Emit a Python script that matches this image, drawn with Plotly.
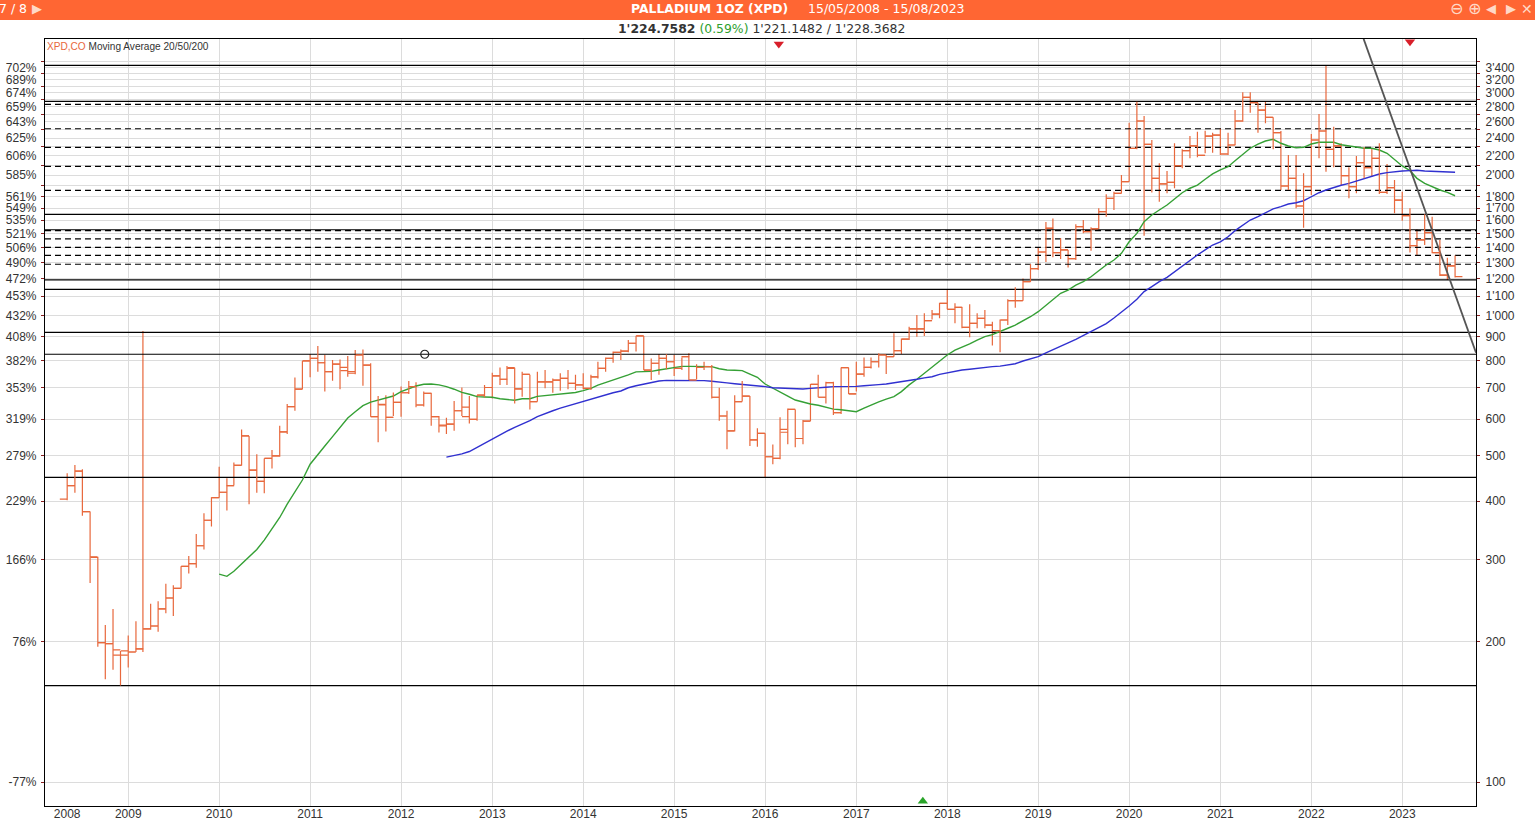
import plotly.graph_objects as go
import pandas as pd

months = [d.strftime("%Y-%m-%d") for d in pd.date_range("2008-05-01", "2023-08-01", freq="MS")]

highs = [459,478,468,380,304,217,235,191,206,221,926,241,244,266,264,290,305,340,377,408,474,448,484,570,552,504,494,515,580,646,
736,799,827,860,824,803,805,819,843,846,790,672,675,684,704,724,719,687,683,609,604,656,701,672,675,710,754,774,779,773,
758,746,758,764,733,752,764,746,752,746,796,813,837,846,886,905,904,809,827,826,823,813,830,786,796,783,700,625,675,724,
672,573,559,529,605,632,629,597,713,746,721,721,774,773,796,813,813,830,823,916,893,946,1002,1011,1028,1065,1138,1062,1041,1057,
1011,1028,970,981,1083,1149,1201,1289,1395,1586,1615,1464,1382,1568,1602,1545,1697,1819,1843,2001,2590,2873,2677,2378,2119,2041,2339,2271,2425,2478,
2490,2466,2519,2466,2757,3009,3009,2859,2873,2659,2486,2208,2208,2017,2449,2704,3443,2540,2339,2078,2197,2293,2282,2339,2112,1952,1843,1697,1530,1648,
1629,1452,1330,1344]
lows = [402,417,372,267,195,166,174,161,176,190,190,212,210,230,227,260,280,288,315,353,407,382,433,477,394,417,416,470,498,557,
625,695,737,758,687,725,695,739,748,707,607,535,564,609,607,679,636,638,580,561,557,566,609,587,595,668,664,710,710,648,
670,629,654,698,683,690,695,692,695,692,733,758,792,803,834,837,764,727,746,767,742,764,724,730,764,664,595,517,564,654,
525,523,450,480,492,530,522,530,594,668,648,612,615,679,687,739,770,774,749,816,827,886,901,904,981,986,1031,962,939,898,
939,939,862,834,954,1039,1076,1180,1252,1302,1333,1322,1268,1315,1500,1377,1533,1629,1683,1828,1936,2271,1483,1834,1754,1828,1873,2068,2172,2183,
2227,2234,2208,2208,2320,2603,2721,2466,2582,2271,1858,1858,1697,1543,1813,2172,2034,2078,1904,1783,1828,1968,1984,1822,1822,1656,1597,1364,1344,1416,
1359,1215,1192,1207]
opens = [404,432,464,380,303,199,198,187,191,190,193,213,216,235,248,260,290,294,321,364,407,418,432,477,552,466,441,494,500,563,
638,695,799,809,792,758,787,762,758,823,783,607,643,605,651,683,704,643,681,607,582,585,625,607,599,675,701,742,730,773,
696,748,654,721,721,727,733,715,710,698,739,770,809,834,839,872,904,764,790,809,796,770,816,727,774,777,668,609,566,654,
672,541,559,498,494,562,629,545,594,712,668,718,619,773,679,749,774,796,823,816,841,890,936,936,975,1007,1062,1031,1041,943,
962,986,954,928,978,1076,1076,1182,1260,1368,1538,1364,1382,1324,1550,1513,1533,1669,1783,1828,1936,2282,2612,2328,1968,1914,1930,2092,2256,2309,
2205,2425,2437,2219,2320,2612,2935,2859,2757,2659,2466,1895,1968,1717,1889,2378,2486,2271,2309,1994,1889,2126,2074,2172,1837,1879,1768,1637,1412,1452,
1505,1364,1221,1277]
closes = [432,464,380,304,199,198,192,187,190,193,213,216,235,248,260,290,294,321,364,407,418,432,478,552,466,441,494,500,563,638,
695,799,809,792,758,787,774,752,823,783,607,645,605,651,683,704,643,681,607,580,585,625,636,599,675,701,742,730,770,696,
748,654,721,721,727,733,715,710,698,739,770,809,834,839,872,904,764,790,809,796,770,816,727,774,777,668,609,566,654,672,
541,559,498,494,570,629,545,594,712,668,718,619,773,679,749,774,796,823,816,841,890,936,936,975,1007,1062,1031,1041,943,962,
986,954,928,978,1076,1076,1182,1260,1368,1540,1364,1382,1324,1550,1513,1533,1669,1783,1828,1936,2282,2612,2328,1968,1914,1930,2092,2256,2309,2205,
2425,2437,2219,2320,2612,2935,2859,2757,2659,2466,1895,1968,1717,1889,2378,2486,2271,2309,1994,1889,2126,2074,2172,1837,1879,1768,1637,1412,1452,1505,
1364,1221,1277,1211]

ma_green = [279,276,283,293,304,315,330,350,369,394,419,444,480,502,525,550,577,603,622,641,652,659,666,672,687,697,706,712,713,710,
704,695,684,678,670,669,668,663,661,658,663,663,671,674,676,678,681,684,690,698,709,718,725,737,746,757,757,759,764,769,
774,778,778,778,779,777,769,764,763,762,749,737,713,698,686,672,659,652,646,642,636,630,628,625,622,633,643,653,662,670,
687,710,730,752,774,796,823,843,855,869,886,901,910,923,939,954,973,994,1019,1053,1085,1116,1134,1162,1182,1211,1247,1283,1315,1359,
1439,1500,1589,1642,1683,1725,1777,1833,1874,1904,1959,2011,2051,2084,2147,2216,2283,2331,2366,2386,2340,2309,2289,2294,2331,2351,2355,2351,2323,2309,
2301,2283,2283,2263,2227,2162,2092,2044,1968,1920,1888,1858,1837,1806]
ma_blue = [497,501,505,511,522,532,543,554,565,576,585,595,607,617,625,633,640,647,656,662,668,676,683,689,700,707,713,719,724,726,726,726,726,726,725,723,719,717,714,712,709,707,704,700,699,697,696,696,698,699,702,704,704,705,705,707,710,711,713,717,720,725,730,735,739,748,754,760,764,767,771,774,777,779,783,788,799,808,816,832,846,860,874,889,906,922,940,961,988,1015,1048,1083,1125,1153,1182,1207,1241,1279,1315,1348,1382,1416,1439,1475,1520,1563,1602,1629,1661,1692,1711,1734,1745,1762,1797,1833,1858,1883,1902,1920,1942,1968,1991,2011,2024,2034,2041,2044,2048,2041,2038,2038,2034,2028]

solid_levels = [3438,2878,1648,1527,1192,1138,920,826,450,161]
dashed_levels = [2836,2514,2294,2088,1855,1520,1459,1400,1346,1288]

trend_x = ["2022-07-30", "2023-10-24"]
trend_y = [3917, 832]
sell_x = ["2016-02-25", "2023-02-01"]
sell_y = [3820, 3860]
buy_x = ["2017-09-25"]
buy_y = [91]
circle_x = ["2012-04-05"]
circle_y = [826]

price_ticks = [100,200,300,400,500,600,700,800,900,1000,1100,1200,1300,1400,1500,1600,1700,1800,2000,2200,2400,2600,2800,3000,3200,3400]
price_labels = ["100","200","300","400","500","600","700","800","900","1'000","1'100","1'200","1'300","1'400","1'500","1'600","1'700","1'800","2'000","2'200","2'400","2'600","2'800","3'000","3'200","3'400"]
pct_labels = ["-77%","76%","166%","229%","279%","319%","353%","382%","408%","432%","453%","472%","490%","506%","521%","535%","549%","561%","585%","606%","625%","643%","659%","674%","689%","702%"]
minor_ticks = [100,200,300,400,500,600,700,800,900,1000,1100,1200,1300,1400,1500,1600,1700,1800,1900,2100,2300,2500,2700,2900,3100,3300,3500]
year_ticks = ["%d-01-01" % y for y in range(2009, 2024)]
year_labels = [str(y) for y in range(2009, 2024)]

X_RANGE = ["2008-02-02", "2023-10-24"]
Y_RANGE = [1.9486, 3.5927]
L, R, T, B = 45, 1476, 39, 806
ORANGE = "#e8683c"
GRID = "#dcdcdc"
TICK = "#8b2020"
TXT = "#333333"
SANS = "Liberation Sans"
DJV = "DejaVu Sans"

fx = lambda px: (px - L) / (R - L)
fy = lambda py: (B - py) / (B - T)

fig = go.Figure()
for part, xa in ((0, "x"), (1, "x2")):
    fig.add_trace(go.Ohlc(
        x=months[part::2], open=opens[part::2], high=highs[part::2], low=lows[part::2], close=closes[part::2],
        xaxis=xa, yaxis="y", tickwidth=0.5, line=dict(width=1.2),
        increasing=dict(line=dict(color=ORANGE, width=1.2)), decreasing=dict(line=dict(color=ORANGE, width=1.2)),
        showlegend=False, hoverinfo="skip"))

def levels_xy(levels):
    xs, ys = [], []
    for v in levels:
        xs += [X_RANGE[0], X_RANGE[1], None]
        ys += [v, v, None]
    return xs, ys

sx, sy = levels_xy(solid_levels)
dx, dy = levels_xy(dashed_levels)
fig.add_trace(go.Scatter(x=sx, y=sy, mode="lines", xaxis="x", yaxis="y2", line=dict(color="black", width=1.2), hoverinfo="skip"))
fig.add_trace(go.Scatter(x=dx, y=dy, mode="lines", xaxis="x", yaxis="y2", line=dict(color="black", width=1.2, dash="6px,4px"), hoverinfo="skip"))
fig.add_trace(go.Scatter(x=months[20:], y=ma_green, mode="lines", xaxis="x", yaxis="y2", line=dict(color="#35a035", width=1.4), name="MA 50"))
fig.add_trace(go.Scatter(x=months[50:], y=ma_blue, mode="lines", xaxis="x", yaxis="y2", line=dict(color="#3030d0", width=1.4), name="MA 200"))
fig.add_trace(go.Scatter(x=trend_x, y=trend_y, mode="lines", xaxis="x", yaxis="y2", line=dict(color="#555555", width=1.8), hoverinfo="skip"))
fig.add_trace(go.Scatter(x=sell_x, y=sell_y, mode="markers", xaxis="x", yaxis="y2", marker=dict(symbol="triangle-down", size=9, color="#d81f2a"), hoverinfo="skip"))
fig.add_trace(go.Scatter(x=buy_x, y=buy_y, mode="markers", xaxis="x", yaxis="y2", marker=dict(symbol="triangle-up", size=9, color="#2aa52a"), hoverinfo="skip"))
fig.add_trace(go.Scatter(x=circle_x, y=circle_y, mode="markers", xaxis="x", yaxis="y2", marker=dict(symbol="circle-open", size=8, color="#222222", line=dict(width=1.2)), hoverinfo="skip"))

def ann(px, py, text, size=12, color="white", family=DJV, anchor="center"):
    fig.add_annotation(x=fx(px), y=fy(py), xref="paper", yref="paper", text=text, showarrow=False,
                       xanchor=anchor, yanchor="middle", font=dict(size=size, color=color, family=family))

fig.add_shape(type="rect", xref="paper", yref="paper", x0=fx(0), x1=fx(1535), y0=fy(20), y1=fy(0),
              fillcolor="#ff6633", line=dict(width=0), layer="below")
ann(629, 9, "<b>PALLADIUM 1OZ (XPD)</b>", 12.4, anchor="left")
ann(806, 9, "15/05/2008 - 15/08/2023", 12.5, anchor="left")
ann(616, 28.5, "<b>1'224.7582</b> <span style='color:#2e9e2e'>(0.59%)</span> 1'221.1482 / 1'228.3682", 12.4, color="#333333", anchor="left")
ann(-3, 9, "7 / 8", 12.5, anchor="left")
ann(37, 9, "▶", 13, color="#ffd9c7")
ann(1456, 9, "⊖", 16, color="#ffd9c7")
ann(1474, 9, "⊕", 16, color="#ffd9c7")
ann(1491, 9, "◀", 13, color="#ffd9c7")
ann(1511, 9, "▶", 13, color="#ffd9c7")
ann(1527, 9, "✕", 14, color="#ffd9c7")
ann(45, 46, "<span style='color:#e8683c'>XPD,CO</span> Moving Average 20/50/200", 10.1, color="#333333", family=SANS, anchor="left")

minor = dict(tickmode="array", tickvals=minor_ticks, ticks="outside", ticklen=3, tickcolor=TICK, tickwidth=1,
             showgrid=True, gridcolor=GRID, gridwidth=1)
fig.update_layout(
    width=1535, height=830, autosize=False,
    margin=dict(l=L, r=1535 - R, t=T, b=830 - B, pad=0, autoexpand=False),
    paper_bgcolor="white", plot_bgcolor="white", showlegend=False,
    font=dict(family=SANS, size=12, color=TXT),
    xaxis=dict(type="date", range=X_RANGE, tickmode="array", tickvals=year_ticks, ticktext=year_labels,
               showgrid=True, gridcolor=GRID, gridwidth=1, ticks="", showline=True, linecolor="black", linewidth=1.2,
               mirror=True, rangeslider=dict(visible=False), zeroline=False, tickangle=0, automargin=False,
               ticklabelstandoff=-4, tickfont=dict(size=12, color=TXT, family=SANS)),
    xaxis2=dict(type="date", range=X_RANGE, overlaying="x", anchor="y", side="bottom", tickmode="array",
                tickvals=["2008-05-01"], ticktext=["2008"], showgrid=False, ticks="", showline=True,
                linecolor="black", linewidth=1.2,
                rangeslider=dict(visible=False), zeroline=False, tickangle=0, automargin=False,
                ticklabelstandoff=-4, tickfont=dict(size=12, color=TXT, family=SANS)),
    yaxis=dict(type="log", range=Y_RANGE, tickmode="array", tickvals=price_ticks, ticktext=pct_labels,
               showgrid=True, gridcolor=GRID, gridwidth=1, ticks="", showline=True, linecolor="black", linewidth=1.2,
               zeroline=False, side="left", minor=minor, automargin=False, ticklabelstandoff=5,
               tickfont=dict(size=12, color=TXT, family=SANS)),
    yaxis2=dict(type="log", range=Y_RANGE, overlaying="y", side="right", anchor="x", tickmode="array",
                tickvals=price_ticks, ticktext=price_labels, showgrid=False, ticks="", showline=True,
                linecolor="black", linewidth=1.2, zeroline=False, automargin=False, ticklabelstandoff=6,
                minor=dict(tickmode="array", tickvals=minor_ticks, ticks="outside", ticklen=3, tickcolor=TICK, tickwidth=1, showgrid=False),
                tickfont=dict(size=12, color=TXT, family=SANS)),
)
fig.write_html("out.html", config=dict(displayModeBar=False), post_script="document.body.style.margin='0';")
